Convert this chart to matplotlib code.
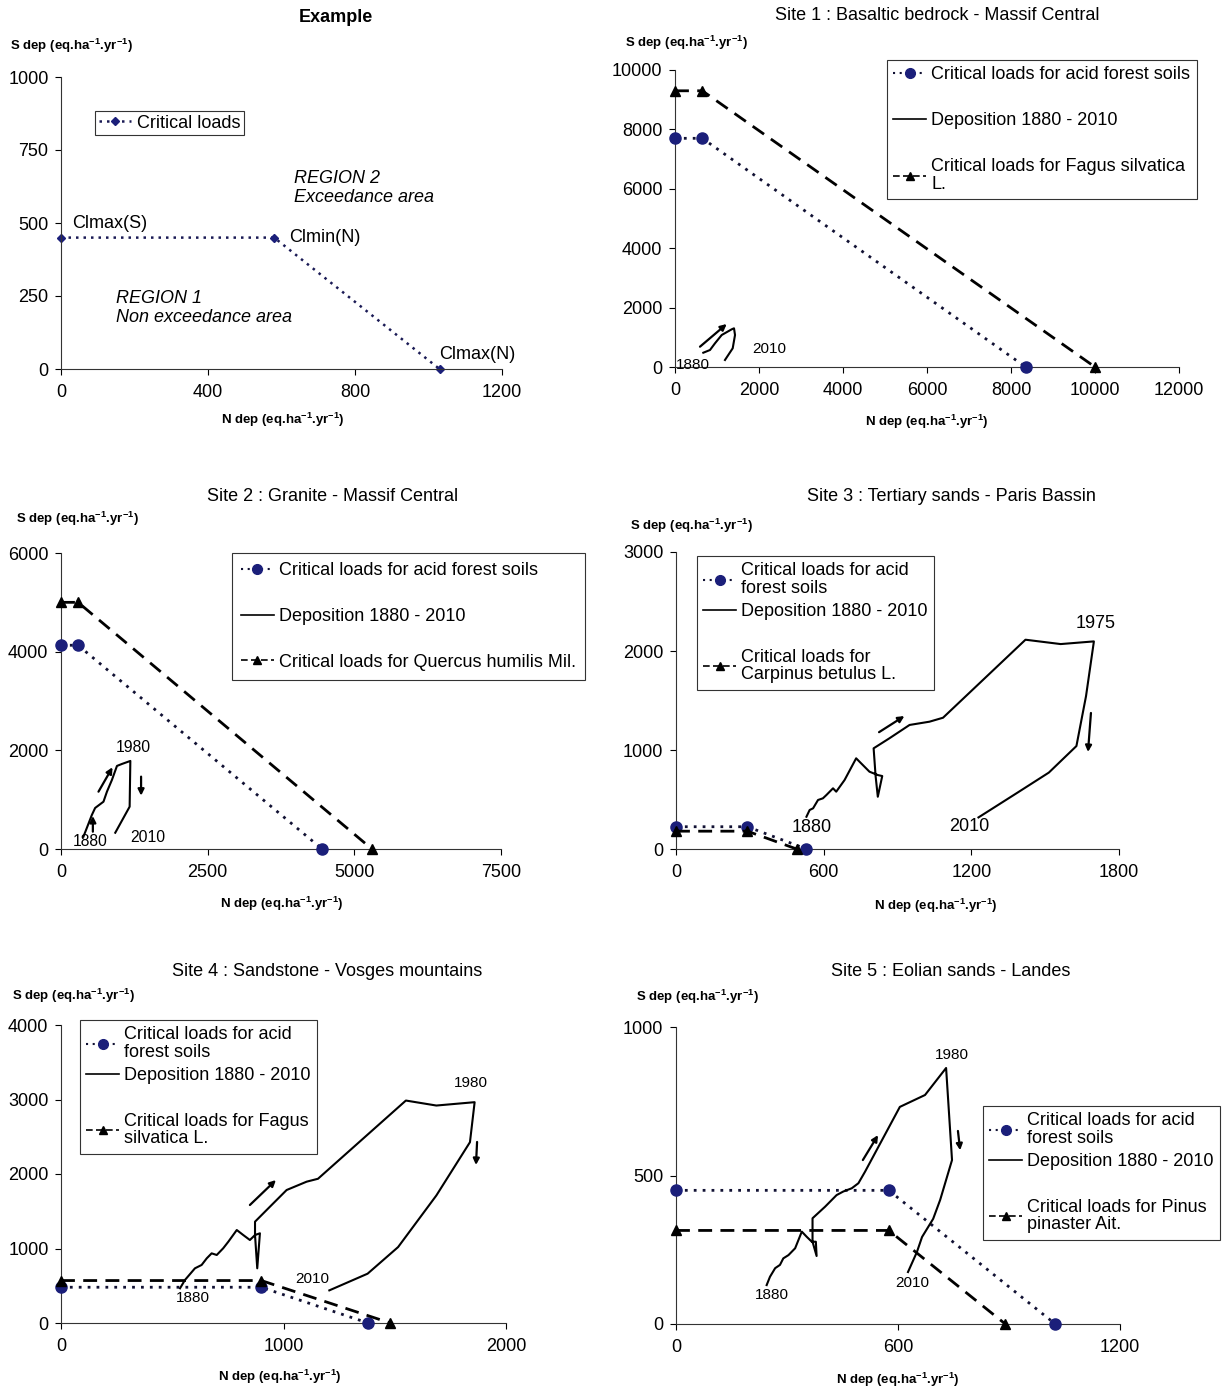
import matplotlib
matplotlib.use('Agg')
import matplotlib.pyplot as plt
from matplotlib.lines import Line2D

plt.rcParams['font.family'] = ['Liberation Sans', 'DejaVu Sans']
plt.rcParams['mathtext.fontset'] = 'custom'
plt.rcParams['mathtext.rm'] = 'Liberation Sans:bold'
plt.rcParams['mathtext.default'] = 'rm'

W, H = 1225, 1389

# ---------------- data ----------------
# Example
ex_cl_n = [0, 580, 1030]
ex_cl_s = [450, 450, 0]

# Site 1
s1_acid_n = [0, 650, 8350]
s1_acid_s = [7700, 7700, 0]
s1_tree_n = [0, 650, 10000]
s1_tree_s = [9300, 9300, 0]
s1_dep_n = [674, 833, 952, 1112, 1350, 1405, 1429, 1374, 1190]
s1_dep_s = [481, 572, 798, 1077, 1269, 1303, 1077, 630, 236]

# Site 2
s2_acid_n = [0, 290, 4450]
s2_acid_s = [4130, 4130, 0]
s2_tree_n = [0, 290, 5300]
s2_tree_s = [5000, 5000, 0]
s2_dep_n = [382, 440, 526, 582, 724, 783, 868, 954, 1039, 1182, 1170, 925]
s2_dep_s = [249, 426, 690, 832, 959, 1162, 1400, 1684, 1724, 1785, 858, 330]

# Site 3
s3_acid_n = [0, 290, 530]
s3_acid_s = [225, 225, 0]
s3_tree_n = [0, 290, 490]
s3_tree_s = [180, 180, 0]
s3_dep_n = [530, 543, 557, 577, 597, 611, 638, 651, 685, 732, 786, 820, 838, 820,
            811, 803, 867, 949, 1030, 1085, 1420, 1563, 1698, 1666, 1627, 1515, 1388, 1229]
s3_dep_s = [326, 394, 411, 495, 512, 545, 613, 579, 697, 916, 781, 747, 737, 528,
            737, 1017, 1118, 1253, 1286, 1326, 2114, 2070, 2097, 1544, 1040, 772, 570, 319]

# Site 4
s4_acid_n = [0, 900, 1380]
s4_acid_s = [480, 480, 0]
s4_tree_n = [0, 900, 1480]
s4_tree_s = [570, 570, 0]
s4_dep_n = [535, 557, 602, 632, 655, 677, 700, 729, 752, 790, 819, 849, 872, 894, 882,
            872, 872, 939, 1014, 1104, 1155, 1550, 1687, 1859, 1838, 1687, 1515, 1378, 1206]
s4_dep_s = [466, 577, 734, 779, 868, 935, 913, 1003, 1091, 1248, 1181, 1114, 1181, 1204, 734,
            1181, 1360, 1561, 1785, 1897, 1936, 2986, 2919, 2964, 2427, 1712, 1019, 662, 438]

# Site 5
s5_acid_n = [0, 575, 1025]
s5_acid_s = [450, 450, 0]
s5_tree_n = [0, 575, 890]
s5_tree_s = [315, 315, 0]
s5_dep_n = [245, 254, 268, 281, 290, 304, 322, 340, 353, 367, 378, 380, 369, 369, 403,
            434, 452, 475, 493, 511, 605, 673, 730, 746, 714, 695, 665, 651, 627]
s5_dep_s = [131, 159, 188, 199, 221, 232, 255, 311, 294, 277, 277, 229, 277, 356, 395,
            434, 446, 457, 474, 513, 731, 771, 862, 552, 418, 354, 293, 242, 175]

# direction arrows (start, end) and year labels
s1_arrows = [((595, 684), (1231, 1448))]
s2_arrows = [((543, 351), (543, 669)), ((639, 1162), (878, 1657)), ((1365, 1467), (1365, 1081))]
s3_arrows = [((825, 1180), (928, 1343)), ((1686, 1374), (1674, 980))]
s4_arrows = [((849, 1584), (966, 1919)), ((1870, 2430), (1865, 2121))]
s5_arrows = [((505, 552), (546, 636)), ((762, 650), (768, 585))]

s1_years = [('1880', 429, 67), ('2010', 2238, 606)]
s2_years = [('1980', 1233, 2048), ('1880', 497, 162), ('2010', 1473, 223)]
s3_years = [('1975', 1707, 2273), ('1880', 551, 222), ('2010', 1192, 232)]
s4_years = [('1980', 1843, 3221), ('1880', 593, 336), ('2010', 1128, 591)]
s5_years = [('1980', 746, 906), ('1880', 259, 98), ('2010', 638, 138)]

NAVY = '#1b1f7a'
YLAB = r'S dep (eq.ha$^{-1}$.yr$^{-1}$)'
XLAB = r'N dep (eq.ha$^{-1}$.yr$^{-1}$)'
DOT = (0, (1, 2.2))
DASH = (0, (5, 3))
FS = 13

fig = plt.figure(figsize=(W / 100, H / 100), dpi=100)


def px_axes(l, t, r, b):
    return fig.add_axes([l / W, 1 - b / H, (r - l) / W, (b - t) / H])


def style(ax, xticks, yticks):
    ax.set_xlim(xticks[0], xticks[-1])
    ax.set_ylim(yticks[0], yticks[-1])
    ax.set_xticks(xticks)
    ax.set_yticks(yticks)
    for s in ['top', 'right']:
        ax.spines[s].set_visible(False)
    for s in ['left', 'bottom']:
        ax.spines[s].set_linewidth(0.8)
        ax.spines[s].set_color('#333333')
    ax.tick_params(axis='x', direction='out', length=4, width=0.8, pad=7, labelsize=FS)
    ax.tick_params(axis='y', direction='out', length=4, width=0.8, pad=5, labelsize=FS)


def site(ax, acid_n, acid_s, tree_n, tree_s, dep_n, dep_s, arrows, years, ysize):
    ax.plot(acid_n, acid_s, linestyle=DOT, lw=2, color='#111133', marker='o',
            ms=8, mfc=NAVY, mec=NAVY, clip_on=False, zorder=3)
    ax.plot(tree_n, tree_s, linestyle=DASH, lw=2, color='black', marker='^',
            ms=7, mfc='black', mec='black', clip_on=False, zorder=3)
    ax.plot(dep_n, dep_s, color='black', lw=1.5, zorder=4)
    for (x0, y0), (x1, y1) in arrows:
        ax.annotate('', xy=(x1, y1), xytext=(x0, y0),
                    arrowprops=dict(arrowstyle='-|>', lw=1.6, color='black',
                                    mutation_scale=9, shrinkA=0, shrinkB=0))
    for txt, x, y in years:
        ax.text(x, y, txt, fontsize=ysize, ha='center', va='center')


def legend(ax, labels, x, y, spacing, blank=False, pad=0.35):
    handles = [
        Line2D([], [], linestyle=DOT, lw=1.5, color='#111133', marker='o', ms=7,
               mfc=NAVY, mec=NAVY),
        Line2D([], [], color='black', lw=1.2),
        Line2D([], [], linestyle=(0, (4, 2)), lw=1.2, color='black', marker='^', ms=6,
               mfc='black', mec='black'),
    ]
    labels = list(labels)
    if blank:
        # empty row between deposition and the tree entry, as in the original legends
        handles.insert(2, Line2D([], [], linestyle='none'))
        labels.insert(2, ' ')
    leg = ax.legend(handles, labels, loc='upper left', bbox_to_anchor=(x / W, 1 - y / H),
                    bbox_transform=fig.transFigure, fontsize=FS, frameon=True,
                    fancybox=False, edgecolor='#333333', framealpha=1, borderaxespad=0,
                    handlelength=1.8, handletextpad=0.3, labelspacing=spacing,
                    borderpad=pad)
    leg.get_frame().set_linewidth(0.8)
    for t in leg.get_texts():
        t.set_linespacing(1.05)


def labels(ax_title, tx, ty, yx, yy, xx, xy, bold=False):
    fig.text(tx / W, 1 - ty / H, ax_title, fontsize=FS, ha='center', va='center',
             fontweight='bold' if bold else 'normal')
    fig.text(yx / W, 1 - yy / H, YLAB, fontsize=9.5, ha='left', va='center', fontweight='bold')
    fig.text(xx / W, 1 - xy / H, XLAB, fontsize=9.5, ha='center', va='center', fontweight='bold')


# ---------------- Example ----------------
ax = px_axes(61, 77, 502, 369)
style(ax, [0, 400, 800, 1200], [0, 250, 500, 750, 1000])
ax.plot(ex_cl_n, ex_cl_s, linestyle=(0, (1, 2)), lw=1.8, color='#1a1a55', marker='D',
        ms=4, mfc=NAVY, mec=NAVY, clip_on=False, label='Critical loads')
leg = ax.legend(loc='upper left', bbox_to_anchor=(95 / W, 1 - 111 / H),
                bbox_transform=fig.transFigure, fontsize=FS, fancybox=False,
                edgecolor='#333333', framealpha=1, borderaxespad=0, handlelength=1.8,
                handletextpad=0.3, borderpad=0.2)
leg.get_frame().set_linewidth(0.8)
ax.text(30, 500, 'Clmax(S)', fontsize=FS, ha='left', va='center')
ax.text(620, 449, 'Clmin(N)', fontsize=FS, ha='left', va='center')
ax.text(1029, 48, 'Clmax(N)', fontsize=FS, ha='left', va='center')
ax.text(634, 620, 'REGION 2\nExceedance area', fontsize=FS, style='italic',
        ha='left', va='center', linespacing=1.2)
ax.text(150, 209, 'REGION 1\nNon exceedance area', fontsize=FS, style='italic',
        ha='left', va='center', linespacing=1.2)
labels('Example', 336, 18, 10, 46, 283, 420, bold=True)

# ---------------- Site 1 ----------------
ax = px_axes(675, 70, 1179, 367)
style(ax, [0, 2000, 4000, 6000, 8000, 10000, 12000], [0, 2000, 4000, 6000, 8000, 10000])
site(ax, s1_acid_n, s1_acid_s, s1_tree_n, s1_tree_s, s1_dep_n, s1_dep_s, s1_arrows, s1_years, 11)
legend(ax, ['Critical loads for acid forest soils', 'Deposition 1880 - 2010',
            'Critical loads for Fagus silvatica\nL.'], 887, 60, 1.6)
labels('Site 1 : Basaltic bedrock - Massif Central', 937, 16, 625, 43, 927, 422)

# ---------------- Site 2 ----------------
ax = px_axes(61, 553, 501, 849)
style(ax, [0, 2500, 5000, 7500], [0, 2000, 4000, 6000])
site(ax, s2_acid_n, s2_acid_s, s2_tree_n, s2_tree_s, s2_dep_n, s2_dep_s, s2_arrows, s2_years, 11.3)
legend(ax, ['Critical loads for acid forest soils', 'Deposition 1880 - 2010',
            'Critical loads for Quercus humilis Mil.'], 232, 553, 1.6, pad=0.5)
labels('Site 2 : Granite - Massif Central', 333, 497, 16, 519, 282, 904)

# ---------------- Site 3 ----------------
ax = px_axes(676, 552, 1119, 849)
style(ax, [0, 600, 1200, 1800], [0, 1000, 2000, 3000])
site(ax, s3_acid_n, s3_acid_s, s3_tree_n, s3_tree_s, s3_dep_n, s3_dep_s, s3_arrows, s3_years, 13)
legend(ax, ['Critical loads for acid\nforest soils', 'Deposition 1880 - 2010',
            'Critical loads for\nCarpinus betulus L.'], 697, 556, 0.33, blank=True)
labels('Site 3 : Tertiary sands - Paris Bassin', 951, 497, 630, 526, 936, 906)

# ---------------- Site 4 ----------------
ax = px_axes(61, 1025, 506, 1323)
style(ax, [0, 1000, 2000], [0, 1000, 2000, 3000, 4000])
site(ax, s4_acid_n, s4_acid_s, s4_tree_n, s4_tree_s, s4_dep_n, s4_dep_s, s4_arrows, s4_years, 11)
legend(ax, ['Critical loads for acid\nforest soils', 'Deposition 1880 - 2010',
            'Critical loads for Fagus\nsilvatica L.'], 80, 1020, 0.33, blank=True)
labels('Site 4 : Sandstone - Vosges mountains', 327, 972, 12, 996, 280, 1377)

# ---------------- Site 5 ----------------
ax = px_axes(676, 1027, 1120, 1324)
style(ax, [0, 600, 1200], [0, 500, 1000])
site(ax, s5_acid_n, s5_acid_s, s5_tree_n, s5_tree_s, s5_dep_n, s5_dep_s, s5_arrows, s5_years, 11)
legend(ax, ['Critical loads for acid\nforest soils', 'Deposition 1880 - 2010',
            'Critical loads for Pinus\npinaster Ait.'], 983, 1106, 0.33, blank=True)
labels('Site 5 : Eolian sands - Landes', 951, 972, 636, 997, 898, 1380)

fig.savefig('out.png', dpi=100, facecolor='white')
